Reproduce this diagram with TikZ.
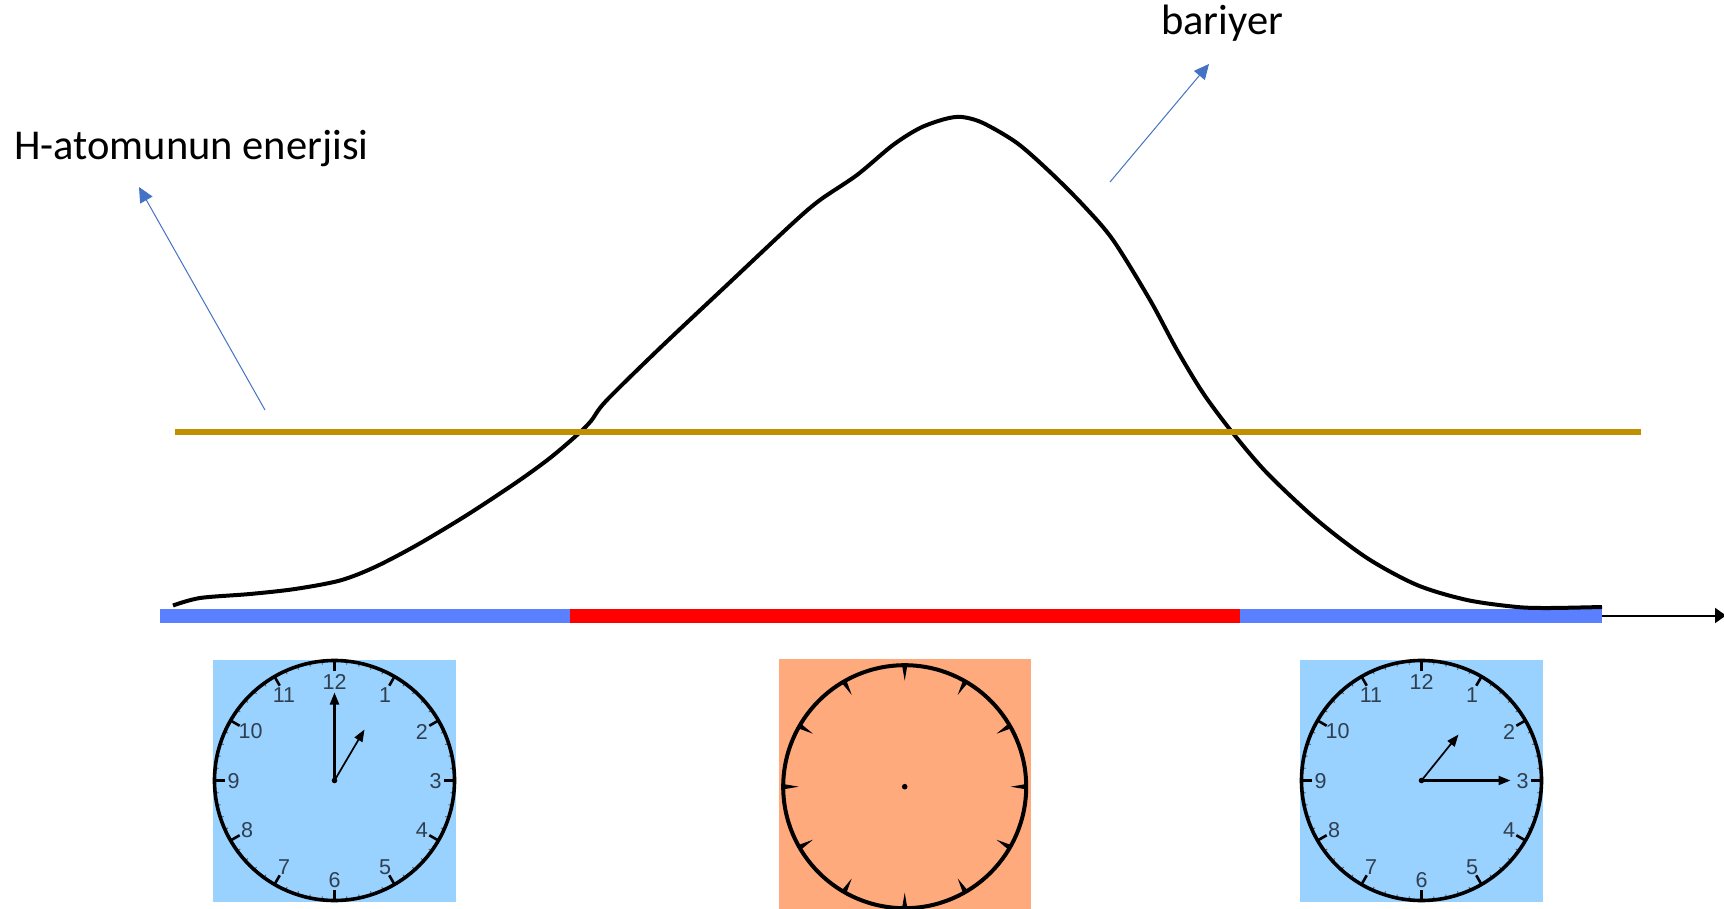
\documentclass[tikz,border=0pt]{standalone}
\usepackage{fontspec}
\setmainfont{Carlito}
\newfontfamily\clockfont{Liberation Sans}
\usetikzlibrary{arrows.meta,calc}
\definecolor{skyface}{HTML}{99D1FF}
\definecolor{orangeface}{HTML}{FFAA7D}
\definecolor{barblue}{HTML}{5A80FF}
\definecolor{gold}{HTML}{BF8F00}
\definecolor{leader}{HTML}{4472C4}
\definecolor{numcol}{HTML}{2F3F4F}
\tikzset{
  x=1pt,y=-1pt,
  lbl/.style={font=\fontsize{42.5}{48}\selectfont,text=black,inner sep=0pt},
  leaderline/.style={draw=leader,line width=1pt,-{Triangle[length=15pt,width=14pt]}},
  barseg/.style={inner sep=0pt,minimum height=13.3pt,anchor=north west},
  rim/.style={draw=black,line width=3.6pt},
  majortick/.style={draw=black,line width=2.6pt},
  minortick/.style={draw=black!65,line width=.9pt},
  hand/.style={draw=black,line width=2.2pt,-{Triangle[length=12pt,width=9pt]}},
  thinhand/.style={draw=black,line width=1.7pt,-{Triangle[length=12pt,width=9pt]}},
  clocknum/.style={font=\clockfont\fontsize{21.5}{21.5}\selectfont,text=numcol,inner sep=0pt},
}
% #1 name, #2 x centre, #3 y centre
\newcommand{\numclock}[3]{%
  \node[fill=skyface,minimum width=243pt,minimum height=242pt,inner sep=0pt] (#1sq) at (#2,#3) {};
  \coordinate (#1c) at (#2,#3);
  \foreach \a in {0,6,...,354} \draw[minortick] (#2,#3) ++(\a:116.5) -- ++(\a:3.5);
  \foreach \a in {0,30,...,330} \draw[majortick] (#2,#3) ++(\a:109.5) -- ++(\a:10.5);
  \draw[rim] (#2,#3) circle (120);
  \foreach \n in {1,...,12} \node[clocknum] at ($(#2,#3)+({sin(\n*30)*101+(\n==10?3.5:0)},{-cos(\n*30)*99+0.5})$) {\n};
  \fill[black] (#2,#3) circle (2.8);
}
\begin{document}
\begin{tikzpicture}
\clip (0,0) rectangle (1724,909);
\fill[white] (0,0) rectangle (1724,909);

% axis
\coordinate (axisstart) at (1602,615.5);
\coordinate (axisend) at (1726,615.5);
\draw[line width=2pt,draw=black,-{Triangle[length=11pt,width=15pt]}] (axisstart) -- (axisend);
% bar
\node[barseg,fill=barblue,minimum width=410pt] (barL) at (160,609) {};
\node[barseg,fill=red,minimum width=670pt] (barM) at (570,609) {};
\node[barseg,fill=barblue,minimum width=362pt] (barR) at (1240,609) {};

% curve
\draw[black,line width=4pt,line join=round] plot[smooth,tension=.5] coordinates {
(173,605.5) (200,598) (250,594) (295,589) (340,580.5) (375,567) (417,545) (467,515) (517,482) (550,458) (577,435)
(591,421) (606,401) (660,348) (727,285) (793,223) (820,200) (857,175) (893,145) (920,128) (945,119) (962,117)
(983,123) (1017,143) (1050,172) (1083,205) (1113,240) (1150,300) (1177,350) (1203,393) (1232,432)
(1267,473) (1317,520) (1367,558) (1417,585) (1467,600) (1517,607) (1550,608) (1602,607)};

% energy line
\coordinate (eL) at (175,432);
\coordinate (eR) at (1641,432);
\draw[draw=gold,line width=6pt] (eL) -- (eR);

% labels
\node[lbl,anchor=base west] (hlabel) at (14,160) {H-atomunun enerjisi};
\node[lbl,anchor=base] (blabel) at (1222,35) {bariyer};
\coordinate (hfrom) at (265,410);
\coordinate (hto) at (139,187);
\coordinate (bfrom) at (1110,182);
\coordinate (bto) at (1209,64);
\draw[leaderline] (hfrom) -- (hto);
\draw[leaderline] (bfrom) -- (bto);

% clocks
\numclock{cA}{334.5}{780.5}
\draw[hand] (cAc) -- ++(0,-88);
\draw[thinhand] (cAc) -- ++(30,-51);
\numclock{cC}{1421.5}{780.5}
\draw[thinhand] (cCc) -- ++(37,-46);
\draw[hand] (cCc) -- ++(89,0);

% blank clock
\node[fill=orangeface,minimum width=252pt,minimum height=250pt,inner sep=0pt] (cBsq) at (904.5,784) {};
\coordinate (cBc) at (904.7,786.7);
\foreach \a in {0,30,...,330}
  \fill[black] (cBc) ++(\a:121) ++(\a+90:2.6) -- ($(cBc)+(\a:106)$) -- ($(cBc)+(\a:121)+(\a-90:2.6)$) -- cycle;
\draw[rim,line width=4pt] (cBc) circle (121.5);
\fill[black] (cBc) circle (2.8);
\end{tikzpicture}
\end{document}
